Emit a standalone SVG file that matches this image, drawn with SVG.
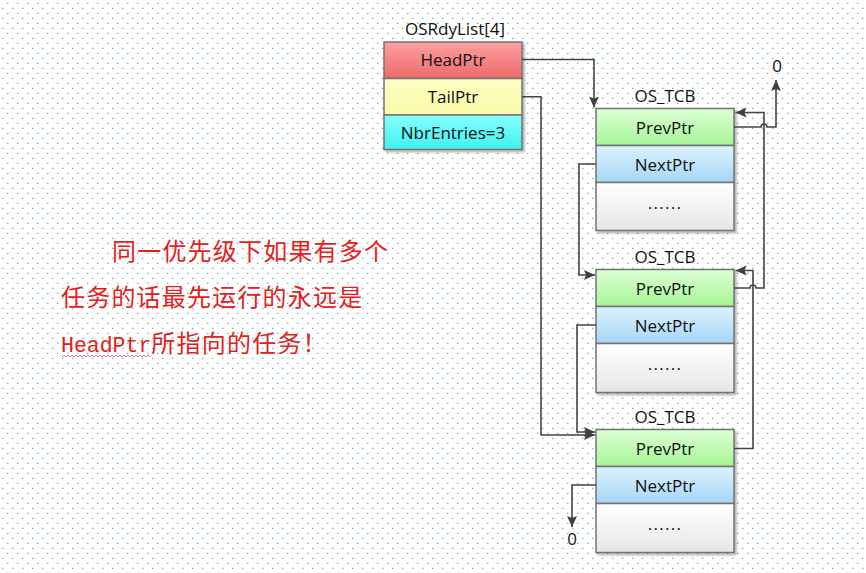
<svg xmlns="http://www.w3.org/2000/svg" width="866" height="573" viewBox="0 0 866 573">
<defs>
  <pattern id="dots" patternUnits="userSpaceOnUse" x="0" y="0" width="10" height="10">
    <rect x="2.2" y="7.8" width="1.1" height="1.1" fill="#3f8f80"/>
    <rect x="7.2" y="2.8" width="1.1" height="1.1" fill="#3f8f80"/>
  </pattern>
  <linearGradient id="gRed" x1="0" y1="0" x2="0" y2="1"><stop offset="0" stop-color="#ffa0a0"/><stop offset="1" stop-color="#ec6a6a"/></linearGradient>
  <linearGradient id="gYel" x1="0" y1="0" x2="0" y2="1"><stop offset="0" stop-color="#ffffc6"/><stop offset="1" stop-color="#f9f9a6"/></linearGradient>
  <linearGradient id="gCyan" x1="0" y1="0" x2="0" y2="1"><stop offset="0" stop-color="#86ffff"/><stop offset="1" stop-color="#40f0f0"/></linearGradient>
  <linearGradient id="gGreen" x1="0" y1="0" x2="0" y2="1"><stop offset="0" stop-color="#dcffd4"/><stop offset="1" stop-color="#a6f696"/></linearGradient>
  <linearGradient id="gBlue" x1="0" y1="0" x2="0" y2="1"><stop offset="0" stop-color="#dcf2ff"/><stop offset="1" stop-color="#a6d6f6"/></linearGradient>
  <linearGradient id="gGray" x1="0" y1="0" x2="0" y2="1"><stop offset="0" stop-color="#ffffff"/><stop offset="1" stop-color="#e6e6e6"/></linearGradient>
  <filter id="sh" x="-10%" y="-10%" width="130%" height="130%">
    <feDropShadow dx="2" dy="2" stdDeviation="1.2" flood-color="#000" flood-opacity="0.3"/>
  </filter>
  <marker id="arr" markerUnits="userSpaceOnUse" markerWidth="12" markerHeight="12" refX="11" refY="6" orient="auto">
    <path d="M0,1 L11,6 L0,11 L2,6 z" fill="#404040"/>
  </marker>
  <style>
    .cell{stroke:#737373;stroke-width:1.5}
    .t{font-family:"Open Sans","Noto Sans",sans-serif;font-size:17px;fill:#111;text-anchor:middle}
    .c{fill:none;stroke:#444;stroke-width:1.6}
    .cn{font-family:"Noto Sans CJK SC",sans-serif;font-size:24px;fill:#e3201c}
  </style>
</defs>
<rect width="866" height="573" fill="#ffffff"/>
<rect width="866" height="573" fill="url(#dots)"/>

<g id="OSRdyList">
  <text class="t" x="455" y="35">OSRdyList[4]</text>
  <g filter="url(#sh)">
    <rect class="cell" x="384" y="42" width="138" height="36.5" fill="url(#gRed)"/>
    <rect class="cell" x="384" y="78.5" width="138" height="36.5" fill="url(#gYel)"/>
    <rect class="cell" x="384" y="115" width="138" height="34.5" fill="url(#gCyan)"/>
  </g>
  <text class="t" x="453" y="66">HeadPtr</text>
  <text class="t" x="453" y="102.7">TailPtr</text>
  <text class="t" x="453" y="138.5">NbrEntries=3</text>
</g>

<g id="TCB1" transform="translate(596,108.5)">
  <text class="t" x="69" y="-6.8">OS_TCB</text>
  <g filter="url(#sh)">
    <rect class="cell" x="0" y="0" width="138" height="37" fill="url(#gGreen)"/>
    <rect class="cell" x="0" y="37" width="138" height="37" fill="url(#gBlue)"/>
    <rect class="cell" x="0" y="74" width="138" height="48" fill="url(#gGray)"/>
  </g>
  <text class="t" x="69" y="25">PrevPtr</text>
  <text class="t" x="69" y="62">NextPtr</text>
  <text class="t" x="69" y="100" letter-spacing="1.3">......</text>
</g>

<g id="TCB2" transform="translate(596,269.5)">
  <text class="t" x="69" y="-6.8">OS_TCB</text>
  <g filter="url(#sh)">
    <rect class="cell" x="0" y="0" width="138" height="37" fill="url(#gGreen)"/>
    <rect class="cell" x="0" y="37" width="138" height="37" fill="url(#gBlue)"/>
    <rect class="cell" x="0" y="74" width="138" height="49" fill="url(#gGray)"/>
  </g>
  <text class="t" x="69" y="25">PrevPtr</text>
  <text class="t" x="69" y="62">NextPtr</text>
  <text class="t" x="69" y="100" letter-spacing="1.3">......</text>
</g>

<g id="TCB3" transform="translate(596,429.5)">
  <text class="t" x="69" y="-6.8">OS_TCB</text>
  <g filter="url(#sh)">
    <rect class="cell" x="0" y="0" width="138" height="37" fill="url(#gGreen)"/>
    <rect class="cell" x="0" y="37" width="138" height="37" fill="url(#gBlue)"/>
    <rect class="cell" x="0" y="74" width="138" height="49" fill="url(#gGray)"/>
  </g>
  <text class="t" x="69" y="25">PrevPtr</text>
  <text class="t" x="69" y="62">NextPtr</text>
  <text class="t" x="69" y="100" letter-spacing="1.3">......</text>
</g>

<g id="connectors">
  <path class="c" d="M522,59.5 H594 V107.5" marker-end="url(#arr)"/>
  <path class="c" d="M522,96.7 H541 V435 H595" marker-end="url(#arr)"/>
  <path class="c" d="M596,164 H579 V275 H595" marker-end="url(#arr)"/>
  <path class="c" d="M596,325 H577 V432 H595" marker-end="url(#arr)"/>
  <path class="c" d="M596,485 H572 V527" marker-end="url(#arr)"/>
  <path class="c" d="M734,127 H761 A3,3 0 0 1 767,127 H776 V80" marker-end="url(#arr)"/>
  <path class="c" d="M734,288 H750 A3,3 0 0 1 756,288 H764 V112.5 H735.5" marker-end="url(#arr)"/>
  <path class="c" d="M734,448.5 H753 V270.5 H735.5" marker-end="url(#arr)"/>
  <text class="t" x="777" y="72">0</text>
  <text class="t" x="572" y="545">0</text>
</g>

<g id="note">
  <text class="cn" x="112" y="260" letter-spacing="1.2">同一优先级下如果有多个</text>
  <text class="cn" x="61" y="306" letter-spacing="1.2">任务的话最先运行的永远是</text>
  <text class="cn" x="61" y="352"><tspan font-family="Liberation Mono, monospace" font-size="21.5" letter-spacing="0">HeadPtr</tspan><tspan letter-spacing="1.2">所指向的任务！</tspan></text>
  <path d="M62,357 l2,-2 l2,2 l2,-2 l2,2 l2,-2 l2,2 l2,-2 l2,2 l2,-2 l2,2 l2,-2 l2,2 l2,-2 l2,2 l2,-2 l2,2 l2,-2 l2,2 l2,-2 l2,2 l2,-2 l2,2 l2,-2 l2,2 l2,-2 l2,2 l2,-2 l2,2 l2,-2 l2,2 l2,-2 l2,2 l2,-2 l2,2 l2,-2 l2,2 l2,-2 l2,2 l2,-2 l2,2 l2,-2 l2,2 l2,-2 l2,2" fill="none" stroke="#e06060" stroke-width="0.9"/>
</g>
</svg>
